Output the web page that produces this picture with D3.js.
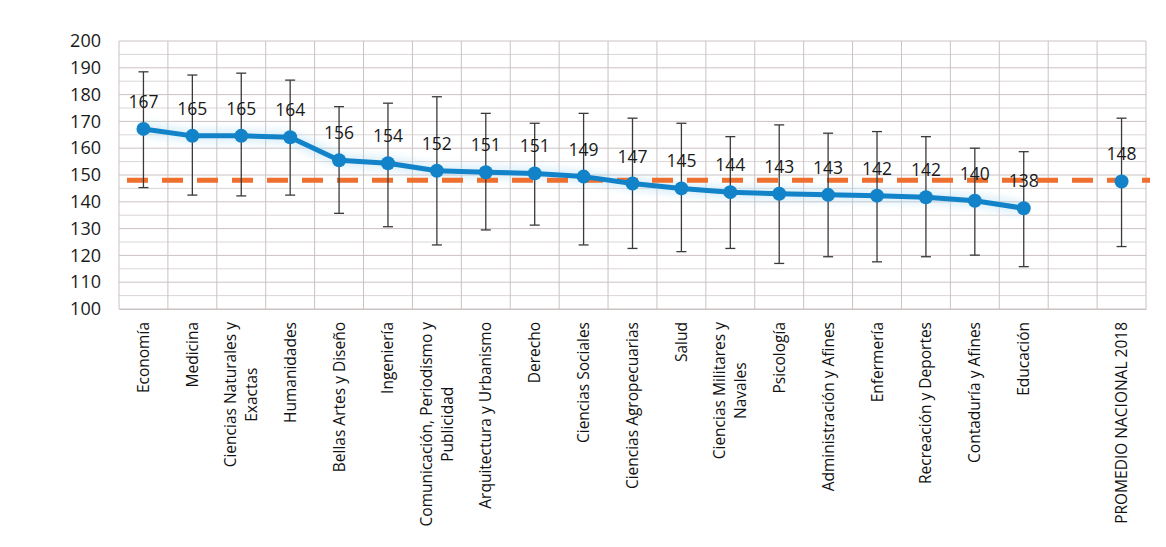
<!DOCTYPE html>
<html><head><meta charset="utf-8">
<script src="https://cdn.jsdelivr.net/npm/d3@7"></script>
<style>body{margin:0;background:#fff}svg{display:block}</style>
</head><body><svg id="c" width="1166" height="547"></svg>
<script>
const categories = ["Economía","Medicina","Ciencias Naturales y|Exactas","Humanidades","Bellas Artes y Diseño","Ingeniería","Comunicación, Periodismo y|Publicidad","Arquitectura y Urbanismo","Derecho","Ciencias Sociales","Ciencias Agropecuarias","Salud","Ciencias Militares y|Navales","Psicología","Administración y Afines","Enfermería","Recreación y Deportes","Contaduría y Afines","Educación","","PROMEDIO NACIONAL 2018"];
const means  = [167.2,164.6,164.6,164.1,155.5,154.4,151.6,151.0,150.6,149.4,146.8,145.0,143.6,143.0,142.6,142.3,141.7,140.4,137.6,null,147.6];
const lower  = [145.3,142.5,142.2,142.5,135.7,130.7,123.9,129.5,131.3,123.9,122.6,121.4,122.6,117.0,119.5,117.6,119.5,120.1,115.8,null,123.3];
const upper  = [188.5,187.3,188.0,185.4,175.5,176.8,179.2,173.0,169.3,173.0,171.2,169.3,164.3,168.7,165.6,166.2,164.3,160.0,158.7,null,171.2];
const nationalAvg = 148;
const yTicks = [100,110,120,130,140,150,160,170,180,190,200];

const svg = d3.select("#c");
const L = 119, R = 1146, T = 41, B = 309;
const x = d3.scaleBand().domain(d3.range(categories.length)).range([L, R]);
const y = d3.scaleLinear().domain([100, 200]).range([B, T]);
const cx = i => x(i) + x.bandwidth() / 2;

const defs = svg.append("defs");
const f = defs.append("filter").attr("id","glow").attr("x","-10%").attr("y","-50%").attr("width","120%").attr("height","200%");
f.append("feGaussianBlur").attr("stdDeviation", 4);

// gridlines
const g = svg.append("g");
g.selectAll("line.h").data(d3.range(100, 201, 5)).join("line")
  .attr("x1", L).attr("x2", R).attr("y1", d => y(d)).attr("y2", d => y(d))
  .attr("stroke", d => d % 10 === 0 ? "#cbc2c2" : "#dcd6d6").attr("stroke-width", 1);
g.selectAll("line.v").data(d3.range(categories.length + 1)).join("line")
  .attr("x1", i => L + i * x.step()).attr("x2", i => L + i * x.step())
  .attr("y1", T).attr("y2", B).attr("stroke", "#cbc2c2").attr("stroke-width", 1);

// y axis
const yAxis = svg.append("g").attr("transform", `translate(${L},0)`)
  .call(d3.axisLeft(y).tickValues(yTicks).tickSize(0).tickPadding(18));
yAxis.select(".domain").remove();
yAxis.selectAll("text").attr("font-family","Open Sans, sans-serif").attr("font-size", 18).attr("fill", "#1a1a1a");

// x axis labels
const xAxis = svg.append("g").attr("transform", `translate(0,${B})`)
  .call(d3.axisBottom(x).tickSize(0).tickFormat(() => ""));
xAxis.select(".domain").attr("stroke", "#cbc2c2");
xAxis.selectAll(".tick").each(function(i) {
  const lines = categories[i].split("|");
  if (!categories[i]) return;
  const t = d3.select(this).append("text")
    .attr("transform", "rotate(-90)")
    .attr("font-family", "Open Sans, sans-serif").attr("font-size", 15.5).attr("fill", "#111");
  const lh = 21;
  const spans = lines.map((s, k) => t.append("tspan").text(s).attr("y", (k - (lines.length - 1) / 2) * lh + 5.5));
  const widths = spans.map(s => s.node().getComputedTextLength());
  const maxW = d3.max(widths);
  spans.forEach((s, k) => s.attr("x", -13 - maxW / 2).attr("text-anchor", "middle"));
});

// blue glow
const line = d3.line().defined(d => d != null).x((d, i) => cx(i)).y(d => y(d));
svg.append("path").datum(means).attr("d", line).attr("fill","none")
  .attr("stroke","#a9d9f4").attr("stroke-width", 12).attr("opacity", 0.45).attr("filter","url(#glow)");

// national average dashed line
svg.append("line").attr("x1", L + 8).attr("x2", R + 4).attr("y1", y(nationalAvg)).attr("y2", y(nationalAvg))
  .attr("stroke", "#ef6f2e").attr("stroke-width", 5).attr("stroke-dasharray", "21 14");

// error bars
const eb = svg.append("g").attr("stroke", "#3a3a3a").attr("stroke-width", 1.3);
means.forEach((m, i) => {
  if (m == null) return;
  eb.append("line").attr("x1", cx(i)).attr("x2", cx(i)).attr("y1", y(lower[i])).attr("y2", y(upper[i]));
  eb.append("line").attr("x1", cx(i) - 5).attr("x2", cx(i) + 5).attr("y1", y(lower[i])).attr("y2", y(lower[i]));
  eb.append("line").attr("x1", cx(i) - 5).attr("x2", cx(i) + 5).attr("y1", y(upper[i])).attr("y2", y(upper[i]));
});

// main line
svg.append("path").datum(means).attr("d", line).attr("fill","none")
  .attr("stroke","#1283c8").attr("stroke-width", 5).attr("stroke-linejoin","round");
svg.append("g").selectAll("circle").data(means.map((m,i)=>({m,i})).filter(d => d.m != null)).join("circle")
  .attr("cx", d => cx(d.i)).attr("cy", d => y(d.m)).attr("r", 7).attr("fill", "#1283c8");

// data labels
svg.append("g").selectAll("text").data(means.map((m,i)=>({m,i})).filter(d => d.m != null)).join("text")
  .attr("x", d => cx(d.i)).attr("y", d => y(d.m) - 21)
  .attr("text-anchor","middle").attr("font-family","Open Sans, sans-serif").attr("font-size", 17.5).attr("fill","#1a1a1a")
  .text(d => Math.round(d.m));
</script></body></html>
